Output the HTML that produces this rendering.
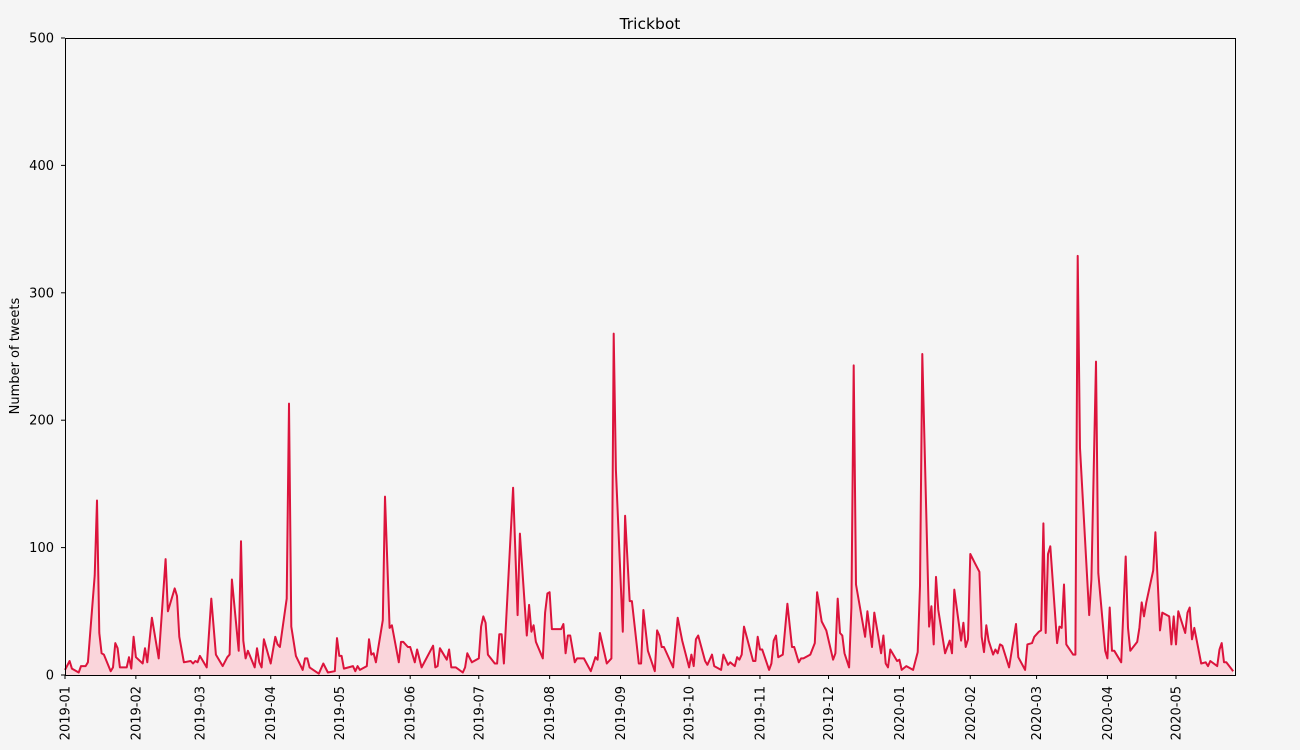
<!DOCTYPE html>
<html><head><meta charset="utf-8"><style>
body{margin:0;background:#f5f5f5;}
svg{display:block;font-family:"DejaVu Sans","Liberation Sans",sans-serif;}
</style></head><body>
<svg id="chart" width="1300" height="750">
<rect width="1300" height="750" fill="#f5f5f5"/>
<text x="650" y="29" font-size="15.5" text-anchor="middle">Trickbot</text>
<text transform="translate(19,356) rotate(-90)" font-size="13" text-anchor="middle">Number of tweets</text>
<g id="plot"></g>
</svg>
<script>
const dayOffsets=[0,2,3,6,7,9,10,13,14,15,16,17,20,21,22,23,24,27,28,29,30,31,34,35,36,38,41,44,45,48,49,50,52,55,56,57,58,59,62,64,66,69,71,72,73,76,77,78,79,80,83,84,85,86,87,90,92,93,94,97,98,99,101,104,105,106,107,111,113,115,118,119,120,121,122,126,127,128,129,132,133,134,135,136,139,140,142,143,146,147,148,150,151,153,154,156,161,162,163,164,167,168,169,171,174,175,176,178,181,182,183,184,185,188,189,190,191,192,196,198,199,202,203,204,205,206,209,210,211,212,213,217,218,219,220,221,223,224,227,230,232,233,234,237,239,240,241,244,245,247,248,251,252,253,255,258,259,260,261,262,266,267,268,270,273,274,275,276,277,280,281,283,284,287,288,290,291,293,294,295,296,297,301,302,303,304,305,308,309,310,311,312,314,316,318,319,321,322,323,326,328,329,331,333,336,337,338,339,340,341,343,344,345,346,350,351,353,354,357,358,359,360,361,364,365,366,368,371,373,374,375,378,379,380,381,382,385,387,388,389,392,393,394,395,396,398,400,401,402,403,404,406,407,408,409,410,413,416,417,420,421,423,424,426,427,428,429,430,431,434,435,436,437,438,441,442,443,444,448,449,451,452,455,456,457,458,459,462,464,465,466,469,470,471,472,473,476,477,479,480,483,484,485,486,487,490,491,492,493,494,497,499,500,501,504,505,506,507,508,511];
const tweetCounts=[4,11,5,2,7,7,10,78,137,33,17,16,3,6,25,21,6,6,14,5,30,14,9,21,10,45,13,91,50,68,62,30,10,11,9,11,10,15,6,60,16,7,14,16,75,19,105,27,13,19,6,21,10,6,28,9,30,24,22,60,213,38,15,4,13,13,6,1,9,2,3,29,15,15,5,7,3,7,4,7,28,16,17,10,43,140,37,39,10,26,26,22,22,10,20,6,23,6,7,21,12,20,6,6,2,6,17,10,13,38,46,41,16,9,9,32,32,9,147,47,111,31,55,34,39,26,13,49,64,65,36,36,40,17,31,31,10,13,13,3,14,12,33,9,13,268,161,34,125,58,58,9,9,51,19,3,35,31,22,22,6,25,45,27,6,16,7,28,31,11,8,16,7,4,16,8,10,7,14,12,16,38,11,11,30,20,20,4,9,27,31,14,16,56,22,22,10,13,13,16,25,65,42,35,12,17,60,33,31,17,6,53,243,71,30,50,22,49,17,31,9,6,20,11,12,4,7,4,18,70,252,38,54,24,77,51,17,27,17,67,27,41,22,28,95,88,81,30,18,39,27,16,20,17,24,23,6,40,14,4,24,25,30,34,35,119,33,95,101,25,38,37,71,24,16,16,329,178,47,75,246,80,19,13,53,19,19,10,93,37,19,26,37,57,46,57,82,112,35,49,46,24,46,24,50,33,49,53,28,37,9,10,7,11,7,20,25,10,10,3];
const yTicks=[0,100,200,300,400,500];
const xTickLabels=["2019-01","2019-02","2019-03","2019-04","2019-05","2019-06","2019-07","2019-08","2019-09","2019-10","2019-11","2019-12","2020-01","2020-02","2020-03","2020-04","2020-05"];

const L=65,R=1235,T=38,B=675,maxDay=511.8,maxY=500;
const start=Date.UTC(2019,0,1);
const xs=d=>L+d*(R-L)/maxDay;
const ys=v=>B-v*(B-T)/maxY;
const NS="http://www.w3.org/2000/svg";
const g=document.getElementById('plot');
function mk(t,a){const e=document.createElementNS(NS,t);for(const k in a)e.setAttribute(k,a[k]);g.appendChild(e);return e;}

let pts=dayOffsets.map((d,i)=>xs(d).toFixed(1)+","+ys(tweetCounts[i]).toFixed(1));
const area=mk('polygon',{points:xs(dayOffsets[0])+","+B+" "+pts.join(" ")+" "+xs(dayOffsets[dayOffsets.length-1])+","+B,fill:"#fad5db"});


const line=mk('polyline',{points:pts.join(" "),fill:"none",stroke:"#dc143c","stroke-width":2,"stroke-linejoin":"round"});



const frame=mk('rect',{x:L+0.5,y:T+0.5,width:R-L,height:B-T,fill:"none",stroke:"#000","stroke-width":1});



yTicks.forEach(v=>{
  const y=ys(v);
  const tk=mk('line',{x1:L-4,x2:L,y1:y,y2:y,stroke:"#000"});
  
  
  const tx=mk('text',{x:L-11,y:y+4.5,"font-size":13,"text-anchor":"end"});
  tx.textContent=v;
  
  
});
xTickLabels.forEach(s=>{
  const [yr,mo]=s.split("-").map(Number);
  const d=(Date.UTC(yr,mo-1,1)-start)/86400000;
  const x=xs(d);
  const tk=mk('line',{x1:x,x2:x,y1:B,y2:B+4,stroke:"#000"});
  
  
  const tx=mk('text',{transform:`translate(${x+4.5},${B+11}) rotate(-90)`,"font-size":13,"text-anchor":"end"});
  tx.textContent=s;
  
  
});
</script>
</body></html>
